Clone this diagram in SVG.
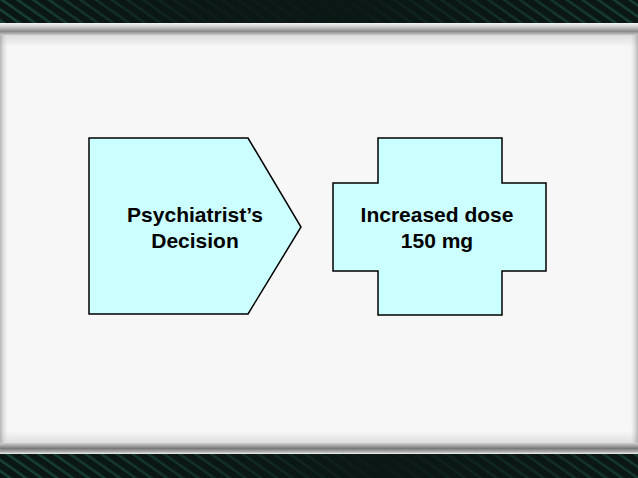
<svg xmlns="http://www.w3.org/2000/svg" width="638" height="478" viewBox="0 0 638 478">
  <defs>
    <style>
      .shape { fill: #ccffff; stroke: #000000; stroke-width: 1.5; stroke-linejoin: miter; }
      .label { font-family: "Liberation Sans", Arial, sans-serif; font-weight: bold; font-size: 21px; fill: #000000; text-anchor: middle; }
    </style>
    <pattern id="streaks" width="9" height="9" patternUnits="userSpaceOnUse" patternTransform="rotate(-55)">
      <rect x="0" y="0" width="2.5" height="9" fill="#2e8f74" opacity="0.45"/>
    </pattern>
    <linearGradient id="bandFade" x1="0" y1="0" x2="1" y2="0">
      <stop offset="0" stop-color="#0b1714" stop-opacity="0.15"/>
      <stop offset="0.3" stop-color="#0b1714" stop-opacity="0.85"/>
      <stop offset="0.55" stop-color="#0b1714" stop-opacity="0.95"/>
      <stop offset="0.8" stop-color="#0b1714" stop-opacity="0.5"/>
      <stop offset="1" stop-color="#0b1714" stop-opacity="0.25"/>
    </linearGradient>
    <linearGradient id="bandFadeB" x1="0" y1="0" x2="1" y2="0">
      <stop offset="0" stop-color="#0b1714" stop-opacity="0.2"/>
      <stop offset="0.35" stop-color="#0b1714" stop-opacity="0.55"/>
      <stop offset="0.6" stop-color="#0b1714" stop-opacity="0.95"/>
      <stop offset="0.85" stop-color="#0b1714" stop-opacity="0.6"/>
      <stop offset="1" stop-color="#0b1714" stop-opacity="0.35"/>
    </linearGradient>
    <linearGradient id="topBevel" x1="0" y1="0" x2="0" y2="1">
      <stop offset="0" stop-color="#f4f4f4"/>
      <stop offset="0.25" stop-color="#d8d8d8"/>
      <stop offset="0.7" stop-color="#8a8a8a"/>
      <stop offset="1" stop-color="#c8c8c8"/>
    </linearGradient>
    <linearGradient id="botBevel" x1="0" y1="0" x2="0" y2="1">
      <stop offset="0" stop-color="#cfcfcf"/>
      <stop offset="0.5" stop-color="#7a7a7a"/>
      <stop offset="0.8" stop-color="#b0b0b0"/>
      <stop offset="1" stop-color="#f2f2f2"/>
    </linearGradient>
    <linearGradient id="panelV" x1="0" y1="0" x2="0" y2="1">
      <stop offset="0" stop-color="#dcdcdc"/>
      <stop offset="0.03" stop-color="#f7f7f7"/>
      <stop offset="0.97" stop-color="#f7f7f7"/>
      <stop offset="1" stop-color="#dedede"/>
    </linearGradient>
    <linearGradient id="panelH" x1="0" y1="0" x2="1" y2="0">
      <stop offset="0" stop-color="#9a9a9a" stop-opacity="0.7"/>
      <stop offset="0.015" stop-color="#ffffff" stop-opacity="0"/>
      <stop offset="0.985" stop-color="#ffffff" stop-opacity="0"/>
      <stop offset="1" stop-color="#9a9a9a" stop-opacity="0.7"/>
    </linearGradient>
  </defs>

  <!-- background bands -->
  <rect x="0" y="0" width="638" height="24" fill="#0b1714"/>
  <rect x="0" y="0" width="638" height="24" fill="url(#streaks)"/>
  <rect x="0" y="0" width="638" height="24" fill="url(#bandFade)"/>
  <rect x="0" y="454" width="638" height="24" fill="#0b1714"/>
  <rect x="0" y="454" width="638" height="24" fill="url(#streaks)"/>
  <rect x="0" y="454" width="638" height="24" fill="url(#bandFadeB)"/>

  <!-- frame -->
  <rect x="0" y="23" width="638" height="12" fill="url(#topBevel)"/>
  <rect x="0" y="35" width="638" height="408" fill="url(#panelV)"/>
  <rect x="0" y="35" width="638" height="408" fill="url(#panelH)"/>
  <rect x="0" y="443" width="638" height="11" fill="url(#botBevel)"/>

  <g id="node-psychiatrist-decision">
    <polygon class="shape" points="89,138 248,138 301,227 248,314 89,314"/>
    <text class="label" x="195" y="222">Psychiatrist’s</text>
    <text class="label" x="195" y="248">Decision</text>
  </g>

  <g id="node-increased-dose">
    <polygon class="shape" points="378,138 502,138 502,183 546,183 546,271 502,271 502,315 378,315 378,271 333,271 333,183 378,183"/>
    <text class="label" x="437" y="222">Increased dose</text>
    <text class="label" x="437" y="248">150 mg</text>
  </g>

  <g id="connectors"></g>
</svg>
